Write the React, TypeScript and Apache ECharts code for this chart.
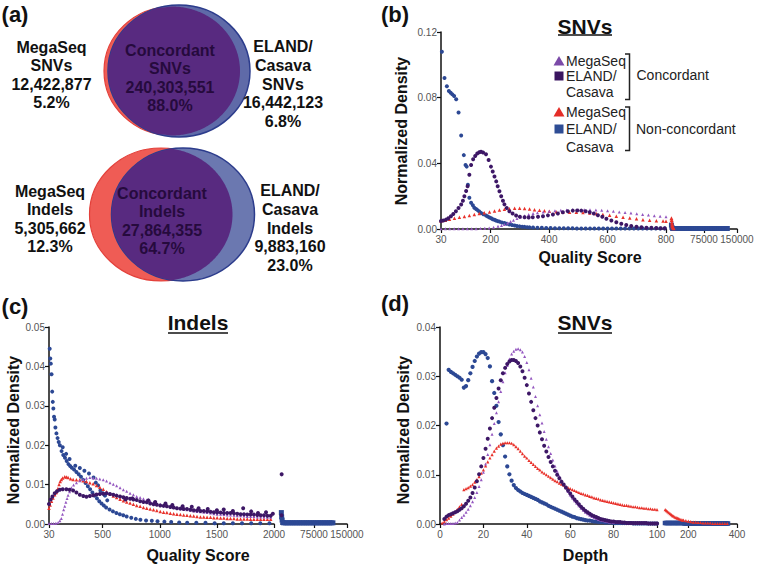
import React, { useEffect, useRef } from "react";
import * as echarts from "echarts";

const FONT = "'Liberation Sans', Arial, Helvetica, sans-serif";
const C_CONC_MEGA = "#9457c0";
const C_CONC_ELAND = "#3d1766";
const C_NON_MEGA = "#e8312a";
const C_NON_ELAND = "#2c4894";

// ---------- (b) SNVs, quality score ----------
const bTicks1 = [30, 200, 400, 600, 800];
const bTicks2 = [75000, 150000];
const bNonEland = [[33,.108],[42,.092],[50,.087],[57,.084],[63,.083],[69,.082],[75,.081],[82,.079],[90,.071],[99,.057],[108,.045],[114,.039],[118,.038],[122,.027],[127,.019],[133,.016],[139,.0145],[144,.013],[150,.0122],[155,.0115],[161,.0107],[167,.0098],[175,.009],[184,.0082],[190,.0076],[196,.007],[202,.0065],[207,.006],[213,.0056],[218,.0052],[224,.0048],[230,.0045],[238,.004],[247,.0036],[255,.0032],[264,.0028],[273,.0024],[282,.0021],[290,.0018],[299,.0016],[308,.0014],[316,.0013],[325,.0011],[333,.001],[345,.0009],[360,.0008],[375,.0007],[390,.0006],[405,.0006],[420,.0005],[435,.0005],[450,.0004],[465,.0004],[480,.0004],[495,.0003],[510,.0003],[525,.0003],[540,.0003],[555,.0003],[570,.0003],[585,.0003],[600,.0003],[615,.0003],[630,.0003],[645,.0003],[660,.0003],[675,.0003],[690,.0003],[705,.0003],[720,.0003],[735,.0003],[750,.0003],[765,.0003],[780,.0003],[795,.0003]];
const bConcEland = [[30,.0049],[38,.0052],[47,.0057],[55,.0066],[64,.0078],[72,.0092],[81,.0108],[90,.0128],[99,.0149],[105,.0172],[110,.02],[116,.0232],[121,.026],[127,.033],[133,.039],[140,.0425],[147,.0445],[154,.046],[161,.0468],[167,.047],[174,.0466],[184,.0455],[193,.042],[201,.038],[207,.035],[213,.032],[219,.029],[224,.026],[230,.023],[236,.02],[242,.0172],[247,.015],[255,.0128],[264,.0108],[275,.0094],[287,.0082],[300,.0075],[316,.0071],[330,.007],[344,.0071],[362,.0074],[379,.0078],[396,.0083],[413,.0088],[430,.0094],[447,.0102],[464,.0108],[481,.0112],[496,.0113],[510,.0112],[525,.0108],[539,.0102],[553,.0094],[567,.0084],[582,.0074],[596,.0063],[613,.0052],[630,.0041],[647,.0032],[664,.0024],[681,.0018],[699,.0014],[716,.0011],[733,.0008],[750,.0007],[767,.0006],[782,.0005],[796,.0004]];
const bConcMega = [[30,.0002],[45,.0002],[60,.0002],[75,.0002],[90,.0002],[105,.0002],[120,.0002],[135,.0002],[150,.0002],[165,.0003],[180,.0004],[195,.0006],[210,.001],[225,.0016],[237,.0022],[247,.0028],[258,.0036],[268,.0045],[278,.0054],[290,.0064],[302,.0073],[316,.0081],[330,.0088],[345,.0094],[360,.0099],[380,.0104],[400,.0108],[420,.0111],[440,.0114],[460,.0116],[480,.0117],[500,.0118],[520,.0118],[540,.0117],[560,.0116],[580,.0114],[600,.0111],[620,.0108],[640,.0104],[660,.01],[680,.0097],[700,.0093],[720,.0089],[740,.0085],[760,.0081],[780,.0077],[800,.0074]];
const bNonMega = [[30,.0047],[45,.0054],[59,.006],[76,.0066],[93,.0071],[110,.0076],[127,.0082],[144,.0088],[161,.0094],[178,.0099],[196,.0104],[213,.011],[230,.0116],[247,.0121],[264,.0124],[282,.0126],[299,.0127],[316,.0125],[333,.0122],[350,.0118],[367,.0114],[384,.0111],[401,.0108],[424,.0105],[447,.0102],[470,.0102],[493,.0102],[516,.01],[539,.0097],[562,.0093],[584,.0088],[607,.0083],[630,.0078],[653,.0072],[676,.0067],[699,.0062],[721,.0057],[744,.0053],[767,.005],[790,.0048],[800,.0047]];
const bNonEland2 = [[1000,.0024],[2000,.001],[3500,.0004],[5000,.0003],[9000,.0003],[13000,.0003],[17000,.0003],[21000,.0003],[25000,.0003],[29000,.0003],[33000,.0003],[37000,.0003],[41000,.0003],[45000,.0003],[49000,.0003],[53000,.0003],[57000,.0003],[61000,.0003],[65000,.0003],[69000,.0003],[73000,.0003],[77000,.0003],[81000,.0003],[85000,.0003],[89000,.0003],[93000,.0003],[97000,.0003],[101000,.0003],[105000,.0003],[109000,.0003],[113000,.0003],[117000,.0003],[121000,.0003],[125000,.0003],[128000,.0003]];
const bNonMega2 = [[1000,.0065],[1500,.0055],[2000,.004],[2500,.0028],[3000,.002],[4000,.001],[6000,.0004]];

// ---------- (c) Indels, quality score ----------
const cTicks1 = [30, 500, 1000, 1500, 2000];
const cTicks2 = [75000, 150000];
const cNonEland = [[36,.0445],[41,.042],[46,.0407],[52,.038],[58,.0336],[63,.031],[68,.0293],[74,.0272],[80,.0265],[86,.0245],[95,.023],[105,.0218],[115,.0208],[125,.02],[140,.0185],[150,.0195],[155,.0175],[170,.0168],[180,.0178],[185,.016],[200,.0152],[210,.0165],[215,.0147],[230,.0143],[250,.0138],[260,.0148],[270,.0132],[290,.0126],[300,.0142],[310,.012],[330,.0112],[340,.0135],[350,.0104],[370,.0096],[380,.0128],[390,.0088],[410,.008],[420,.0118],[430,.0072],[440,.0105],[450,.0065],[460,.0098],[470,.0058],[480,.0085],[490,.0052],[500,.0078],[510,.0047],[520,.0072],[530,.0042],[540,.006],[560,.0037],[590,.0032],[620,.0028],[650,.0025],[680,.0022],[710,.0019],[750,.0016],[790,.0013],[830,.0011],[880,.0009],[930,.0008],[980,.0007],[1040,.0006],[1100,.0005],[1170,.0004],[1240,.0003],[1320,.0003],[1400,.0003],[1480,.0002],[1560,.0002],[1640,.0002],[1720,.0002],[1800,.0002],[1880,.0002],[1960,.0002]];
const cConcEland = [[30,.0051],[45,.0062],[60,.007],[80,.0078],[100,.0083],[124,.0087],[150,.0088],[182,.0088],[210,.0087],[241,.0085],[270,.008],[300,.0074],[330,.0071],[358,.0069],[388,.0071],[417,.0073],[446,.0075],[475,.0076],[505,.0077],[534,.0078],[564,.0076],[593,.0074],[622,.0072],[652,.007],[681,.0068],[700,.0062],[710,.0066],[740,.0064],[760,.0065],[769,.0062],[798,.0061],[828,.0058],[857,.0056],[886,.0055],[900,.006],[916,.0052],[945,.005],[960,.0056],[974,.0049],[1004,.0047],[1033,.0046],[1050,.0052],[1062,.0045],[1092,.0043],[1110,.0048],[1121,.0042],[1150,.004],[1180,.0039],[1200,.0045],[1209,.0038],[1238,.0038],[1268,.0036],[1280,.0044],[1297,.0035],[1326,.0034],[1340,.004],[1356,.0033],[1385,.0033],[1414,.0032],[1420,.0038],[1444,.0031],[1473,.003],[1500,.0035],[1502,.0029],[1532,.0029],[1560,.0037],[1561,.0028],[1590,.0028],[1619,.0028],[1640,.0033],[1649,.0027],[1678,.0026],[1707,.0025],[1730,.004],[1737,.0025],[1766,.0024],[1795,.0024],[1800,.0032],[1824,.0024],[1854,.0023],[1860,.0028],[1883,.0022],[1912,.0022],[1930,.003],[1942,.0021],[1971,.0021],[1990,.0026]];
const cConcMega = [[30,.0001],[50,.0001],[70,.0001],[90,.0002],[110,.0004],[125,.0008],[138,.0014],[148,.0025],[158,.0036],[168,.0045],[178,.0055],[188,.0065],[197,.0073],[210,.0082],[226,.0092],[245,.0099],[270,.0105],[300,.011],[329,.0113],[358,.0116],[388,.0118],[417,.0117],[446,.0116],[475,.0114],[505,.0112],[534,.0109],[564,.0105],[593,.0101],[622,.0097],[652,.0092],[681,.0087],[710,.0083],[740,.0078],[769,.0074],[798,.007],[828,.0067],[857,.0064],[886,.0061],[916,.0058],[945,.0055],[974,.0052],[1004,.005],[1033,.0048],[1062,.0046],[1092,.0044],[1121,.0042],[1150,.0041],[1180,.0039],[1209,.0038],[1238,.0036],[1268,.0035],[1297,.0033],[1326,.0032],[1356,.0031],[1385,.003],[1414,.0029],[1444,.0028],[1473,.0026],[1502,.0025],[1532,.0025],[1561,.0024],[1590,.0023],[1619,.0023],[1649,.0022],[1678,.0021],[1707,.0021],[1737,.002],[1766,.0019],[1795,.0019],[1824,.0019],[1854,.0018],[1883,.0018],[1912,.0018],[1942,.0017],[1971,.0017]];
const cNonMega = [[30,.004],[40,.0048],[52,.0058],[65,.0066],[80,.0074],[94,.008],[108,.009],[118,.01],[128,.0108],[138,.0113],[150,.0117],[168,.012],[182,.0119],[197,.0118],[219,.0115],[241,.0113],[270,.0112],[300,.0112],[329,.011],[358,.0108],[388,.0105],[417,.0102],[446,.0098],[475,.0093],[505,.0088],[534,.0082],[564,.0076],[593,.0071],[622,.0067],[652,.0063],[681,.0059],[710,.0056],[740,.0053],[769,.005],[798,.0047],[828,.0045],[857,.0042],[886,.004],[916,.0038],[945,.0036],[974,.0034],[1004,.0032],[1033,.003],[1062,.0029],[1092,.0027],[1121,.0026],[1150,.0025],[1180,.0024],[1209,.0023],[1238,.0022],[1268,.0021],[1297,.002],[1326,.0019],[1356,.0018],[1385,.0018],[1414,.0017],[1444,.0017],[1473,.0016],[1502,.0016],[1532,.0015],[1561,.0015],[1590,.0014],[1619,.0014],[1649,.0014],[1678,.0013],[1707,.0013],[1737,.0013],[1766,.0013],[1795,.0012],[1824,.0012],[1854,.0012],[1883,.0012],[1912,.0012],[1942,.0012],[1971,.0012]];
const cNonEland2 = [[800,.0029],[1500,.0018],[2500,.001],[4000,.0004],[6000,.0003],[10000,.0003],[14000,.0003],[18000,.0003],[22000,.0003],[26000,.0003],[30000,.0003],[34000,.0003],[38000,.0003],[42000,.0003],[46000,.0003],[50000,.0003],[54000,.0003],[58000,.0003],[62000,.0003],[66000,.0003],[70000,.0003],[74000,.0003],[78000,.0003],[82000,.0003],[86000,.0003],[90000,.0003],[94000,.0003],[98000,.0003],[102000,.0003],[106000,.0003],[110000,.0003],[114000,.0003],[118000,.0003]];
const cConcEland2 = [[1500,.0126],[1200,.0022]];

// ---------- (d) SNVs, depth ----------
const dTicks2 = [200, 400];
const depthX = [1,2,3,4,5,6,7,8,9,10,11,12,13,14,15,16,17,18,19,20,21,22,23,24,25,26,27,28,29,30,31,32,33,34,35,36,37,38,39,40,41,42,43,44,45,46,47,48,49,50,51,52,53,54,55,56,57,58,59,60,61,62,63,64,65,66,67,68,69,70,71,72,73,74,75,76,77,78,79,80,81,82,83,84,85,86,87,88,89,90,91,92,93,94,95,96,97,98,99,100];
const dNonEland = [null,null,.0204,.0313,.0309,.0306,.0303,.03,.0297,.0293,.0277,.028,.0292,.0306,.0319,.0331,.034,.0346,.0349,.0349,.0345,.0337,.032,.029,.0266,.024,.0207,.0182,.016,.0137,.0117,.0101,.0088,.0079,.0073,.0069,.0066,.0063,.0061,.0059,.0057,.0055,.0053,.0051,.0049,.0046,.0044,.0042,.004,.0037,.0035,.0033,.0031,.0029,.0027,.0025,.0023,.0021,.0019,.0017,.0015,.0014,.0012,.0011,.001,.0009,.0008,.0007,.0007,.0006,.0005,.0005,.0004,.0004,.0004,.0003,.0003,.0003,.0003,.0002,.0002,.0002,.0002,.0002,.0002,.0002,.0002,.0002,.0001,.0001,.0001,.0001,.0001,.0001,.0001,.0001,.0001,.0001,.0001,.0001];
const dConcEland = [null,.001,.0015,.0018,.002,.0022,.0024,.0026,.0029,.0032,.0036,.0041,.0047,.0054,.0063,.0074,.0087,.0101,.0117,.0134,.0153,.0173,.0194,.0215,.0236,.0256,.0275,.0292,.0306,.0317,.0325,.033,.0333,.0333,.0331,.0327,.032,.031,.0297,.0282,.0265,.0248,.0231,.0215,.02,.0186,.0172,.0159,.0147,.0136,.0126,.0117,.0108,.01,.0093,.0086,.008,.0074,.0068,.0062,.0056,.005,.0045,.004,.0035,.0031,.0027,.0024,.0021,.0018,.0016,.0014,.0012,.001,.0009,.0008,.0007,.0006,.0005,.0005,.0004,.0004,.0004,.0003,.0003,.0002,.0002,.0002,.0002,.0002,.0002,.0002,.0002,.0002,.0002,.0001,.0001,.0001,.0001,.0001];
const dConcMega = [null,0,.0001,.0001,.0001,.0001,.0002,.0003,.0008,.0013,.0018,.0024,.003,.0037,.0045,.0054,.0064,.0076,.009,.0105,.0122,.0141,.0161,.0182,.0204,.0226,.0248,.0269,.0289,.0307,.0322,.0335,.0345,.0351,.0355,.0356,.0354,.0349,.034,.0328,.0313,.0296,.0278,.0259,.024,.0222,.0205,.0188,.0172,.0157,.0143,.013,.0118,.0107,.0097,.0088,.008,.0073,.0066,.0059,.0053,.0047,.0042,.0037,.0032,.0028,.0024,.0021,.0018,.0015,.0013,.0011,.0009,.0008,.0007,.0006,.0005,.0004,.0004,.0003,.0003,.0003,.0003,.0003,.0003,.0002,.0002,.0002,.0002,.0002,.0002,.0002,.0002,.0002,.0002,.0001,.0001,.0001,.0001,.0001];
const dNonMega = [.0002,.0005,.0009,.0012,.0016,.002,.0025,.003,.0035,.004,.007,.0072,.0074,.0077,.008,.0085,.009,.0096,.0103,.011,.0118,.0126,.0134,.0141,.0148,.0154,.0158,.0162,.0164,.0165,.0165,.0165,.0164,.0161,.0157,.0153,.0148,.0143,.0138,.0134,.0129,.0125,.0121,.0117,.0113,.011,.0106,.0103,.01,.0097,.0094,.0091,.0088,.0086,.0083,.0081,.0079,.0076,.0074,.0072,.007,.0068,.0066,.0064,.0062,.0061,.0059,.0058,.0056,.0055,.0053,.0052,.0051,.0049,.0048,.0047,.0046,.0045,.0044,.0043,.0042,.0041,.004,.0039,.0038,.0038,.0037,.0036,.0035,.0035,.0034,.0033,.0033,.0032,.0032,.0031,.0031,.003,.003,.0029];
const dNonMega2 = [[105,.0029],[110,.0027],[115,.0025],[120,.0023],[125,.0021],[130,.0019],[135,.0017],[140,.0016],[145,.0014],[150,.0013],[155,.0012],[160,.0011],[165,.001],[170,.0009],[175,.0008],[180,.0008],[190,.0007],[200,.0006],[210,.0005],[220,.0004],[230,.0004],[240,.0003],[250,.0003],[260,.0002],[270,.0002],[280,.0002],[290,.0002],[300,.0001],[310,.0001],[320,.0001],[330,.0001],[340,.0001],[350,.0001],[360,.0001]];
const dNonEland2 = [[104,.0002],[109,.0002],[114,.0002],[119,.0002],[124,.0002],[129,.0002],[134,.0002],[139,.0002],[144,.0002],[149,.0002],[154,.0002],[159,.0002],[164,.0002],[169,.0002],[174,.0002],[179,.0002],[184,.0001],[189,.0001],[194,.0001],[199,.0001],[204,.0001],[209,.0001],[214,.0001],[219,.0001],[224,.0001],[229,.0001],[234,.0001],[239,.0001],[244,.0001],[249,.0001],[254,.0001],[259,.0001],[264,.0001],[269,.0001],[274,.0001],[279,.0001],[284,.0001],[289,.0001],[294,.0001],[299,.0001],[304,.0001],[309,.0001],[314,.0001],[319,.0001],[324,.0001],[329,.0001],[334,.0001],[339,.0001],[344,.0001],[349,.0001],[354,.0001],[359,.0001],[363,.0001]];

// ---------- (a) Venn ----------
const vennSnvTexts = ["MegaSeq\nSNVs\n12,422,877\n5.2%", "Concordant\nSNVs\n240,303,551\n88.0%", "ELAND/\nCasava\nSNVs\n16,442,123\n6.8%"];
const vennIndelTexts = ["MegaSeq\nIndels\n5,305,662\n12.3%", "Concordant\nIndels\n27,864,355\n64.7%", "ELAND/\nCasava\nIndels\n9,883,160\n23.0%"];

function pairs(xs: number[], ys: (number | null)[]) {
  const out: number[][] = [];
  xs.forEach((x, i) => { const v = ys[i]; if (v !== null && v !== undefined) out.push([x, v]); });
  return out;
}

function lens(a: any, b: any) {
  const inside = (e: any, x: number, y: number) => ((x - e.cx) / e.rx) ** 2 + ((y - e.cy) / e.ry) ** 2 <= 1;
  const pts: number[][] = [];
  const N = 180;
  for (let i = 0; i <= N; i++) {
    const t = -Math.PI / 2 + (Math.PI * i) / N;
    const x = a.cx + a.rx * Math.cos(t), y = a.cy + a.ry * Math.sin(t);
    if (inside(b, x, y)) pts.push([x, y]);
  }
  for (let i = 0; i <= N; i++) {
    const t = Math.PI / 2 + (Math.PI * i) / N;
    const x = b.cx + b.rx * Math.cos(t), y = b.cy + b.ry * Math.sin(t);
    if (inside(a, x, y)) pts.push([x, y]);
  }
  return pts;
}

function txt(x: number, y: number, text: string, size: number, opts: any = {}) {
  return {
    type: "text", x, y, rotation: opts.rotation || 0, z: 50,
    style: {
      text, x: 0, y: 0, fill: opts.color || "#111", fontSize: size, fontWeight: opts.weight || "bold",
      fontFamily: FONT, align: opts.align || "center", textAlign: opts.align || "center",
      verticalAlign: "middle", textVerticalAlign: "middle", lineHeight: opts.lineHeight || size * 1.2,
    },
  };
}

function vennGroup(red: any, blue: any, texts: string[], pos: number[][], blueFill: string) {
  const els: any[] = [];
  els.push({ type: "ellipse", shape: red, z: 10, style: { fill: "#ef5c55", stroke: "#e3403a", lineWidth: 1.2 } });
  els.push({ type: "ellipse", shape: blue, z: 11, style: { fill: blueFill, stroke: "#2c3c8c", lineWidth: 1.5 } });
  els.push({ type: "polygon", shape: { points: lens(red, blue) }, z: 12, style: { fill: "#582a80" } });
  texts.forEach((t, i) => {
    els.push(txt(pos[i][0], pos[i][1], t, 16, { color: i === 1 ? "#260a3d" : "#111", lineHeight: 18.6 }));
  });
  return els;
}

function xAxis(grid: number, min: number, max: number, ticks: number[] | null, interval?: number) {
  const ax: any = {
    type: "value", gridIndex: grid, min, max,
    axisLine: { show: true, onZero: false, lineStyle: { color: "#111", width: 1.5 } },
    axisTick: { show: true, length: 4, lineStyle: { color: "#111", width: 1.2 } },
    axisLabel: { color: "#555", fontSize: 10, fontFamily: FONT, margin: 5, showMinLabel: true, showMaxLabel: true,
      hideOverlap: false, formatter: (v: number) => String(Math.round(v)) },
    splitLine: { show: false },
  };
  if (ticks) { ax.axisLabel.customValues = ticks; ax.axisTick.customValues = ticks; }
  if (interval) ax.interval = interval;
  return ax;
}

function yAxis(grid: number, max: number, interval: number, show: boolean) {
  return {
    type: "value", gridIndex: grid, min: 0, max, interval, show,
    axisLine: { show: true, lineStyle: { color: "#111", width: 1.5 } },
    axisTick: { show: true, length: 4, lineStyle: { color: "#111", width: 1.2 } },
    axisLabel: { color: "#555", fontSize: 10, fontFamily: FONT, margin: 4, formatter: (v: number) => v.toFixed(2) },
    splitLine: { show: false },
  };
}

function sc(name: string, data: any[], ax: number, color: string, symbol: string, size: number, z: number) {
  return { type: "scatter", name, data, xAxisIndex: ax, yAxisIndex: ax, symbol, symbolSize: size, z, silent: true,
    itemStyle: { color, opacity: 1 }, emphasis: { disabled: true } };
}

function legendEls() {
  const els: any[] = [];
  const tri = (x: number, y: number, c: string) => ({ type: "polygon", z: 50, shape: { points: [[x, y - 5], [x - 5.5, y + 4.5], [x + 5.5, y + 4.5]] }, style: { fill: c } });
  const sq = (x: number, y: number, c: string) => ({ type: "rect", z: 50, shape: { x: x - 4.5, y: y - 4.5, width: 9, height: 9 }, style: { fill: c } });
  const lab = (y: number, t: string) => txt(566, y, t, 14, { weight: "normal", align: "left", color: "#222" });
  const bracket = (y1: number, y2: number) => ({ type: "polyline", z: 50, shape: { points: [[625, y1], [629.5, y1], [629.5, y2], [625, y2]] }, style: { stroke: "#222", lineWidth: 1.5, fill: null } });
  els.push(tri(559, 61, "#7b4aa8"), lab(61, "MegaSeq"));
  els.push(sq(559, 76, "#3a1560"), lab(76, "ELAND/"), lab(91.5, "Casava"));
  els.push(bracket(54, 99.5), txt(636.5, 75, "Concordant", 14, { weight: "normal", align: "left", color: "#222" }));
  els.push(tri(559, 112, "#e52d27"), lab(112, "MegaSeq"));
  els.push(sq(559, 129, "#2e4d95"), lab(129, "ELAND/"), lab(146.5, "Casava"));
  els.push(bracket(107, 150.5), txt(636, 128.5, "Non-concordant", 14, { weight: "normal", align: "left", color: "#222" }));
  return els;
}

function titleEls(x: number, y: number, t: string, uy: number, w: number) {
  return [txt(x, y, t, 21), { type: "line", z: 50, shape: { x1: x - w / 2, y1: uy, x2: x + w / 2, y2: uy }, style: { stroke: "#111", lineWidth: 1.6 } }];
}

export default function App() {
  const ref = useRef<HTMLDivElement>(null);
  useEffect(() => {
    if (!ref.current) return;
    const chart = echarts.init(ref.current, null, { renderer: "svg" });
    const graphics: any[] = [];
    graphics.push(txt(15, 14, "(a)", 22), txt(395, 14, "(b)", 22), txt(15, 306, "(c)", 22), txt(395, 303, "(d)", 22));
    graphics.push(...vennGroup({ cx: 172, cy: 71, rx: 68, ry: 64.5 }, { cx: 179, cy: 71, rx: 71, ry: 66 }, vennSnvTexts,
      [[51.5, 75], [170, 78], [283, 84]], "#5f6aa8"));
    graphics.push(...vennGroup({ cx: 161, cy: 214.5, rx: 71.5, ry: 66.5 }, { cx: 183, cy: 214.5, rx: 71.5, ry: 66.5 }, vennIndelTexts,
      [[50, 219], [162, 221], [290, 228]], "#6b78b0"));
    graphics.push(...titleEls(585, 26, "SNVs", 35, 54), ...titleEls(198, 322, "Indels", 333, 60), ...titleEls(585, 322, "SNVs", 333, 54));
    graphics.push(txt(401.5, 131, "Normalized Density", 16, { rotation: Math.PI / 2 }), txt(590, 257, "Quality Score", 16));
    graphics.push(txt(13.5, 430, "Normalized Density", 16, { rotation: Math.PI / 2 }), txt(198, 555, "Quality Score", 16));
    graphics.push(txt(403.5, 430, "Normalized Density", 16, { rotation: Math.PI / 2 }), txt(585.5, 555, "Depth", 16));
    graphics.push(...legendEls());

    const option: any = {
      animation: false,
      backgroundColor: "#ffffff",
      textStyle: { fontFamily: FONT },
      grid: [
        { left: 441, top: 32, width: 225, height: 197 },
        { left: 671, top: 32, width: 66, height: 197 },
        { left: 49, top: 327, width: 225, height: 197 },
        { left: 281, top: 327, width: 66, height: 197 },
        { left: 440, top: 327, width: 217, height: 197 },
        { left: 664, top: 327, width: 73, height: 197 },
      ],
      xAxis: [
        xAxis(0, 30, 800, bTicks1),
        xAxis(1, 0, 150000.5, bTicks2),
        xAxis(2, 30, 2000, cTicks1),
        xAxis(3, 0, 150000.5, cTicks2),
        xAxis(4, 0, 100, null, 20),
        xAxis(5, 100, 400, dTicks2),
      ],
      yAxis: [
        yAxis(0, 0.12, 0.04, true), yAxis(1, 0.12, 0.04, false),
        yAxis(2, 0.05, 0.01, true), yAxis(3, 0.05, 0.01, false),
        yAxis(4, 0.04, 0.01, true), yAxis(5, 0.04, 0.01, false),
      ],
      series: [
        sc("Non-concordant ELAND/Casava", bNonEland, 0, C_NON_ELAND, "circle", 4, 2),
        sc("Non-concordant MegaSeq", bNonMega, 0, C_NON_MEGA, "triangle", 3.5, 3),
        sc("Concordant MegaSeq", bConcMega, 0, C_CONC_MEGA, "triangle", 3, 4),
        sc("Concordant ELAND/Casava", bConcEland, 0, C_CONC_ELAND, "circle", 4, 5),
        sc("Non-concordant ELAND/Casava b2", bNonEland2, 1, C_NON_ELAND, "rect", 5, 2),
        sc("Non-concordant MegaSeq b2", bNonMega2, 1, C_NON_MEGA, "triangle", 4, 3),
        sc("Non-concordant ELAND/Casava c", cNonEland, 2, C_NON_ELAND, "circle", 4, 2),
        sc("Non-concordant MegaSeq c", cNonMega, 2, C_NON_MEGA, "triangle", 3.5, 3),
        sc("Concordant MegaSeq c", cConcMega, 2, C_CONC_MEGA, "triangle", 3, 4),
        sc("Concordant ELAND/Casava c", cConcEland, 2, C_CONC_ELAND, "circle", 4, 5),
        sc("Non-concordant ELAND/Casava c2", cNonEland2, 3, C_NON_ELAND, "rect", 5, 2),
        sc("Concordant ELAND/Casava c2", cConcEland2, 3, C_CONC_ELAND, "circle", 4, 5),
        sc("Non-concordant ELAND/Casava d", pairs(depthX, dNonEland), 4, C_NON_ELAND, "circle", 4.2, 2),
        sc("Non-concordant MegaSeq d", pairs(depthX, dNonMega), 4, C_NON_MEGA, "triangle", 3.2, 3),
        sc("Concordant MegaSeq d", pairs(depthX, dConcMega), 4, C_CONC_MEGA, "triangle", 3, 4),
        sc("Concordant ELAND/Casava d", pairs(depthX, dConcEland), 4, C_CONC_ELAND, "circle", 4, 5),
        sc("Non-concordant ELAND/Casava d2", dNonEland2, 5, C_NON_ELAND, "rect", 4.5, 2),
        sc("Non-concordant MegaSeq d2", dNonMega2, 5, C_NON_MEGA, "triangle", 3.2, 3),
      ],
      graphic: { elements: graphics },
    };
    chart.setOption(option);
    return () => chart.dispose();
  }, []);
  return <div ref={ref} style={{ position: "absolute", left: 0, top: 0, width: 758, height: 570, background: "#fff" }} />;
}
